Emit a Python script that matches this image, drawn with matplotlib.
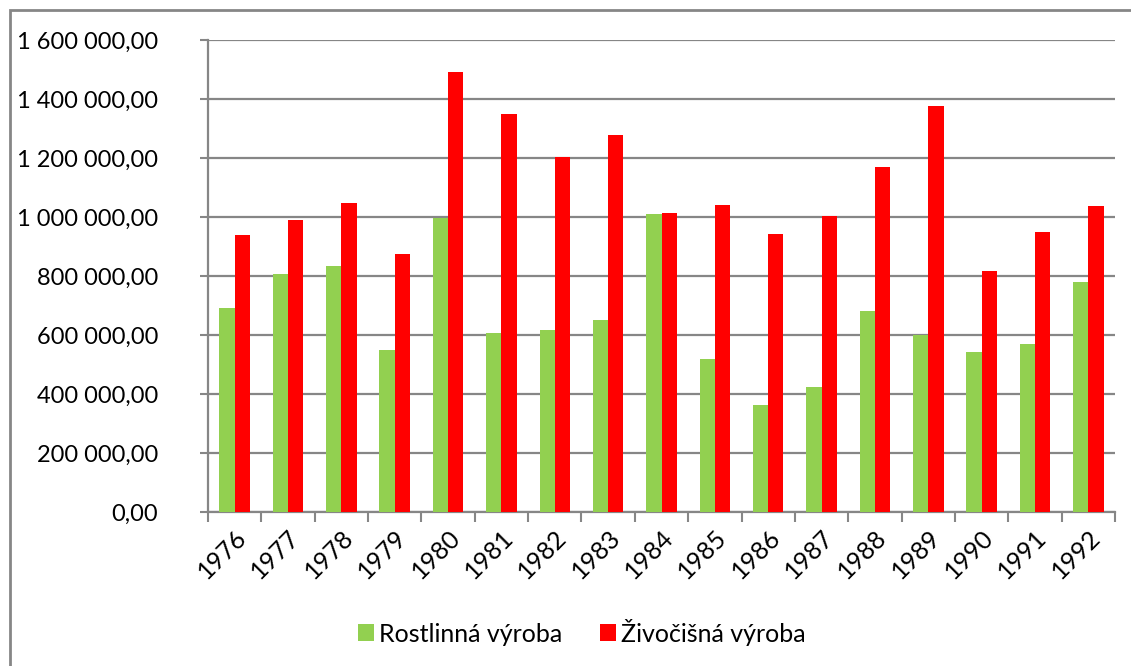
import numpy as np
import matplotlib.pyplot as plt
from matplotlib.patches import Rectangle
from matplotlib.ticker import FuncFormatter, MultipleLocator

years = ['1976', '1977', '1978', '1979', '1980', '1981', '1982', '1983', '1984',
         '1985', '1986', '1987', '1988', '1989', '1990', '1991', '1992']
rostlinna = [691000, 807000, 834000, 549000, 996000, 607000, 617000, 651000, 1010000,
             519000, 363000, 424000, 681000, 600000, 542000, 569000, 780000]
zivocisna = [939000, 990000, 1047000, 875000, 1491000, 1349000, 1203000, 1278000, 1013000,
             1041000, 942000, 1003000, 1169000, 1376000, 817000, 949000, 1037000]

plt.rcParams['font.family'] = ['Lato', 'DejaVu Sans']
grey = '#868686'

W, H = 1131, 666
fig = plt.figure(figsize=(W / 100, H / 100), dpi=100)
ax = fig.add_axes([208 / W, 1 - 512 / H, (1115 - 208) / W, (512 - 40) / H])

# outer chart frame (right and bottom edges fall outside the image)
fig.patches.append(Rectangle((10 / W, -0.1), 1.2, 1 - 10 / H + 0.1, transform=fig.transFigure,
                             fill=False, edgecolor=grey, linewidth=2))

x = np.arange(len(years))
w = 1 / 3.5
ax.bar(x - w / 2, rostlinna, w, color='#92D050', label='Rostlinná výroba', zorder=3)
ax.bar(x + w / 2, zivocisna, w, color='#FF0000', label='Živočišná výroba', zorder=3)

ax.set_xlim(-0.5, len(years) - 0.5)
ax.set_ylim(0, 1600000)
ax.yaxis.set_major_locator(MultipleLocator(200000))
ax.yaxis.set_major_formatter(FuncFormatter(
    lambda v, p: '{:,.2f}'.format(v).replace(',', ' ').replace('.', ',')))
ax.grid(axis='y', color=grey, linewidth=1.6, zorder=0)

ax.set_xticks(x)
ax.set_xticklabels(years, rotation=45, ha='right', rotation_mode='anchor', fontsize=18)
ax.tick_params(axis='x', length=0, pad=10)
ax.set_xticks(np.arange(-0.5, len(years)), minor=True)
ax.tick_params(axis='x', which='minor', length=7, width=1.5, color=grey)
ax.tick_params(axis='y', length=6, width=1.5, color=grey, labelsize=17, pad=30)

for s in ['top', 'right']:
    ax.spines[s].set_visible(False)
for s in ['left', 'bottom']:
    ax.spines[s].set_color(grey)
    ax.spines[s].set_linewidth(1.6)

fig.legend(loc='center', bbox_to_anchor=(582 / W, 1 - 632 / H), ncol=2, frameon=False,
           fontsize=18, handlelength=0.65, handleheight=0.65, handletextpad=0.2,
           columnspacing=1.5)

fig.savefig('out.png', dpi=100)
